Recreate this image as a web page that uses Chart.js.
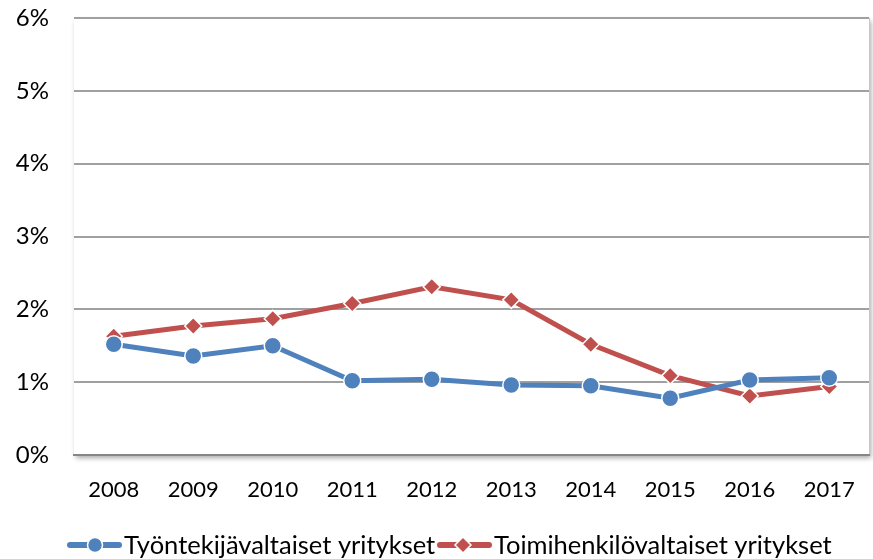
<!DOCTYPE html>
<html>
<head>
<meta charset="utf-8">
<script src="https://cdn.jsdelivr.net/npm/chart.js@4/dist/chart.umd.min.js"></script>
<style>
  html, body { margin: 0; padding: 0; background: #fff; overflow: hidden; }
  #wrap { width: 873px; height: 559px; position: relative; }
  canvas { display: block; }
</style>
</head>
<body>
<div id="wrap"><canvas id="chart"></canvas></div>
<script>
// vuodet ja sarjat
const years = ['2008', '2009', '2010', '2011', '2012', '2013', '2014', '2015', '2016', '2017'];
const tyontekijaLabel = 'Työntekijävaltaiset yritykset';
const toimihenkiloLabel = 'Toimihenkilövaltaiset yritykset';
const tyontekijaValues = [1.52, 1.36, 1.50, 1.02, 1.04, 0.96, 0.95, 0.78, 1.03, 1.06];
const toimihenkiloValues = [1.63, 1.77, 1.87, 2.08, 2.31, 2.13, 1.52, 1.09, 0.81, 0.94];
const yTicks = [0, 1, 2, 3, 4, 5, 6];

const BLUE = '#4F81BD';
const RED = '#C0504D';
const FONT = 'Lato, "Open Sans", sans-serif';

// plot-alueen varjo
const plotShadow = {
  id: 'plotShadow',
  beforeDraw(chart) {
    const { ctx, chartArea: a } = chart;
    ctx.save();
    ctx.shadowColor = 'rgba(0,0,0,0.35)';
    ctx.shadowBlur = 5;
    ctx.shadowOffsetX = 2;
    ctx.shadowOffsetY = 3;
    ctx.fillStyle = '#fff';
    ctx.fillRect(a.left, a.top, a.right - a.left, a.bottom - a.top);
    ctx.restore();
    ctx.save();
    ctx.strokeStyle = '#c8c8c8';
    ctx.lineWidth = 1;
    ctx.beginPath();
    ctx.moveTo(a.right + 0.5, a.top);
    ctx.lineTo(a.right + 0.5, a.bottom);
    ctx.stroke();
    ctx.restore();
  },
};

// selite: viiva + merkki + teksti
const lineLegend = {
  id: 'lineLegend',
  afterDraw(chart) {
    const { ctx } = chart;
    const y = 545;
    const items = [
      { ds: chart.data.datasets[0], x: 67 },
      { ds: chart.data.datasets[1], x: 437 },
    ];
    ctx.save();
    items.forEach(({ ds, x }) => {
      ctx.strokeStyle = ds.borderColor;
      ctx.lineWidth = 6;
      ctx.lineCap = 'round';
      ctx.beginPath();
      ctx.moveTo(x + 3, y);
      ctx.lineTo(x + 52, y);
      ctx.stroke();
      ctx.fillStyle = ds.borderColor;
      ctx.strokeStyle = '#fff';
      ctx.lineWidth = 1.5;
      ctx.beginPath();
      if (ds.pointStyle === 'circle') {
        ctx.arc(x + 28, y, 7.5, 0, Math.PI * 2);
      } else {
        ctx.moveTo(x + 26, y - 8);
        ctx.lineTo(x + 34, y);
        ctx.lineTo(x + 26, y + 8);
        ctx.lineTo(x + 18, y);
        ctx.closePath();
      }
      ctx.fill();
      ctx.stroke();
      ctx.fillStyle = '#000';
      ctx.font = '25.5px ' + FONT;
      ctx.textBaseline = 'middle';
      ctx.textAlign = 'left';
      ctx.fillText(ds.label, x + 57, y + 1);
    });
    ctx.restore();
  },
};

new Chart(document.getElementById('chart'), {
  type: 'line',
  data: {
    labels: years,
    datasets: [
      {
        label: tyontekijaLabel,
        data: tyontekijaValues,
        borderColor: BLUE,
        backgroundColor: BLUE,
        borderWidth: 5,
        pointStyle: 'circle',
        pointRadius: 8.5,
        pointBorderColor: '#fff',
        pointBorderWidth: 1.5,
        tension: 0,
      },
      {
        label: toimihenkiloLabel,
        data: toimihenkiloValues,
        borderColor: RED,
        backgroundColor: RED,
        borderWidth: 5,
        pointStyle: 'rectRot',
        pointRadius: 8.5,
        pointBorderColor: '#fff',
        pointBorderWidth: 1.5,
        tension: 0,
      },
    ],
  },
  options: {
    responsive: true,
    maintainAspectRatio: false,
    animation: false,
    layout: { autoPadding: false, padding: { left: 0, right: 4, top: 18, bottom: 0 } },
    plugins: {
      legend: { display: false },
      tooltip: { enabled: false },
    },
    scales: {
      x: {
        offset: true,
        grid: { display: false, drawTicks: false },
        border: { display: true, color: '#868686', width: 2 },
        ticks: {
          color: '#000',
          font: { family: FONT, size: 22 },
          padding: 22,
          maxRotation: 0,
        },
        afterFit: (scale) => {
          scale.height = 104;
          scale.paddingLeft = 0;
          scale.paddingRight = 0;
        },
      },
      y: {
        min: 0,
        max: 6,
        afterBuildTicks: (scale) => {
          scale.ticks = yTicks.map((v) => ({ value: v }));
        },
        grid: { color: '#a0a0a0', lineWidth: 2, drawTicks: false },
        border: { display: false },
        ticks: {
          color: '#000',
          font: { family: FONT, size: 24 },
          padding: 25,
          callback: (v) => v + '%',
        },
        afterFit: (scale) => {
          scale.width = 74;
          scale.paddingTop = 0;
          scale.paddingBottom = 0;
        },
      },
    },
  },
  plugins: [plotShadow, lineLegend],
});
</script>
</body>
</html>
